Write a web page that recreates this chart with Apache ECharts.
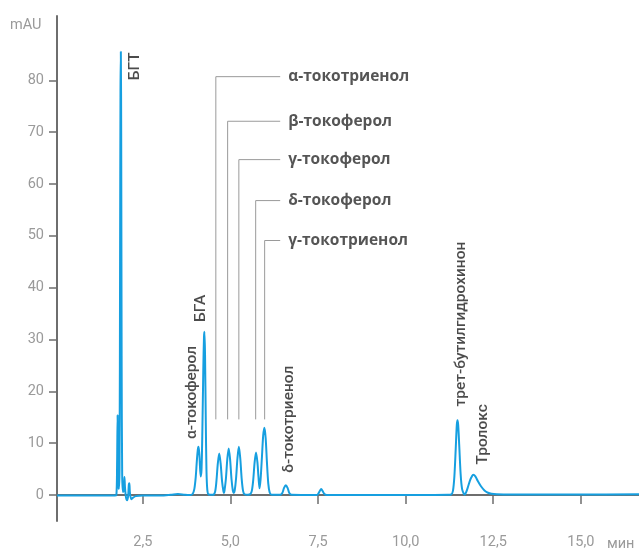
<!DOCTYPE html>
<html>
<head>
<meta charset="utf-8">
<script src="https://cdn.jsdelivr.net/npm/echarts@6/dist/echarts.min.js"></script>
<style>
html,body{margin:0;padding:0;background:#fff;}
#c{width:639px;height:552px;}
</style>
</head>
<body>
<div id="c"></div>
<script>
// Chromatogram trace (retention time, min ; absorbance, mAU)
const retentionTime = [
  0.05, 0.5, 1.0, 1.5, 1.70,
  1.745, 1.765, 1.78, 1.79, 1.80, 1.815,
  1.835, 1.85, 1.862, 1.872, 1.882, 1.895, 1.91, 1.93,
  1.96, 1.975, 1.99, 2.02, 2.05, 2.08, 2.10, 2.115, 2.13, 2.17, 2.22, 2.3, 2.5,
  3.0, 3.3, 3.5, 3.7, 3.85,
  3.92, 3.97, 4.01, 4.04, 4.07, 4.09, 4.115, 4.15, 4.175, 4.2, 4.225, 4.245, 4.258, 4.275, 4.295, 4.315, 4.34, 4.38,
  4.50, 4.56, 4.60, 4.64, 4.68, 4.72, 4.76, 4.80, 4.815,
  4.83, 4.87, 4.91, 4.95, 4.99, 5.03, 5.07, 5.095,
  5.12, 5.16, 5.20, 5.24, 5.28, 5.32, 5.36, 5.40, 5.5,
  5.57, 5.61, 5.65, 5.69, 5.73, 5.77, 5.80, 5.83,
  5.86, 5.90, 5.935, 5.97, 6.005, 6.04, 6.08, 6.12, 6.18,
  6.42, 6.48, 6.53, 6.58, 6.63, 6.68, 6.75,
  7.45, 7.50, 7.55, 7.59, 7.63, 7.68, 7.75,
  8.5, 9.5, 10.5, 11.2,
  11.30, 11.35, 11.39, 11.43, 11.46, 11.48, 11.50, 11.53, 11.57, 11.61, 11.66, 11.69,
  11.73, 11.78, 11.84, 11.89, 11.93, 11.99, 12.06, 12.15, 12.25, 12.35, 12.45, 12.6,
  13.0, 14.0, 15.0, 16.66
];
const absorbance = [
  -0.1, -0.1, -0.1, -0.1, -0.1,
  0.0, 6.0, 15.4, 8.0, 2.0, 1.2,
  5.0, 45.0, 78.0, 85.5, 70.0, 25.0, 4.0, 0.6,
  1.0, 3.5, 1.5, -0.5, -1.0, -0.2, 2.0, 2.3, 0.5, -0.8, -0.5, -0.2, -0.1,
  -0.1, 0.05, 0.2, 0.05, 0.0,
  0.2, 1.2, 3.5, 6.5, 8.8, 9.3, 7.6, 3.6, 5.0, 13.0, 24.0, 30.5, 31.5, 27.0, 15.0, 5.0, 1.0, 0.1,
  0.05, 0.6, 2.7, 6.1, 8.0, 6.1, 2.7, 0.7, 0.4,
  0.8, 3.1, 6.9, 9.0, 6.9, 3.1, 0.8, 0.4,
  0.8, 3.2, 7.1, 9.3, 7.1, 3.2, 0.8, 0.15, 0.05,
  0.2, 0.8, 2.9, 6.3, 8.2, 6.3, 3.5, 1.3,
  3.0, 7.5, 11.5, 13.0, 11.0, 6.5, 2.2, 0.5, 0.05,
  0.05, 0.4, 1.4, 1.9, 1.4, 0.4, 0.05,
  0.0, 0.2, 0.8, 1.15, 0.8, 0.2, 0.0,
  0.0, 0.0, 0.0, 0.05,
  0.1, 0.8, 3.5, 9.0, 13.5, 14.45, 13.5, 9.5, 4.0, 1.2, 0.25, 0.1,
  0.6, 1.6, 2.9, 3.6, 3.9, 3.6, 2.7, 1.7, 0.9, 0.45, 0.25, 0.15,
  0.1, 0.1, 0.1, 0.15
];

// Axis ticks
const xTicks = [2.5, 5.0, 7.5, 10.0, 12.5, 15.0];
const yTicks = [0, 10, 20, 30, 40, 50, 60, 70, 80];

// Rotated peak labels: name, time of label centre, level of label bottom
const peakLabels = ['БГТ', 'α-токоферол', 'БГА', 'δ-токотриенол', 'трет-бутилгидрохинон', 'Тролокс'];
const peakLabelTime = [2.28, 3.915, 4.155, 6.675, 11.57, 12.22];
const peakLabelLevel = [80.0, 10.8, 33.4, 4.3, 17.1, 5.9];

// Leader-line labels
const leaderLabels = ['α-токотриенол', 'β-токоферол', 'γ-токоферол', 'δ-токоферол', 'γ-токотриенол'];
const leaderPeakTime = [4.583, 4.92, 5.24, 5.72, 5.976];
const leaderLevel = [80.7, 72.1, 64.7, 56.8, 49.1];
const leaderBottom = 14.6;
const leaderEndTime = 6.42;
const leaderTextTime = 6.65;

const chart = echarts.init(document.getElementById('c'), null, {renderer: 'canvas'});

const trace = retentionTime.map((t, i) => [t, absorbance[i]]);

const fmt = v => v.toFixed(1).replace('.', ',');

const series = [
  {
    type: 'line',
    data: trace,
    symbol: 'none',
    smooth: 0.3,
    lineStyle: {color: '#169fe0', width: 2},
    silent: true,
    z: 3
  }
];

leaderLabels.forEach((name, i) => {
  series.push({
    type: 'line',
    data: [[leaderPeakTime[i], leaderBottom], [leaderPeakTime[i], leaderLevel[i]], [leaderEndTime, leaderLevel[i]]],
    symbol: 'none',
    lineStyle: {color: '#9a9a9a', width: 1},
    silent: true,
    z: 2
  });
});

series.push({
  type: 'scatter',
  symbolSize: 0,
  silent: true,
  data: peakLabels.map((n, i) => ({name: n, value: [peakLabelTime[i], peakLabelLevel[i]]})),
  label: {
    show: true,
    position: [0, 0],
    rotate: 90,
    align: 'left',
    verticalAlign: 'middle',
    formatter: p => p.name,
    fontFamily: 'Roboto',
    fontWeight: 500,
    fontSize: 15.5,
    color: '#1e1e1e'
  },
  z: 5
});

series.push({
  type: 'scatter',
  symbolSize: 0,
  silent: true,
  data: leaderLabels.map((n, i) => ({name: n, value: [leaderTextTime, leaderLevel[i]]})),
  label: {
    show: true,
    position: [0, 0],
    align: 'left',
    verticalAlign: 'middle',
    formatter: p => p.name,
    fontFamily: 'Open Sans',
    fontWeight: 700,
    fontSize: 15.5,
    color: '#2a2a2a'
  },
  z: 5
});

chart.setOption({
  animation: false,
  backgroundColor: '#fff',
  grid: {left: 57, right: 0, top: 16, bottom: 31, containLabel: false},
  xAxis: {
    type: 'value',
    min: 0.05,
    max: 16.66,
    axisLine: {show: true, lineStyle: {color: '#6e6e6e', width: 2}},
    axisTick: {show: true, customValues: xTicks, length: 9, lineStyle: {color: '#6e6e6e', width: 1.5}},
    axisLabel: {show: true, customValues: xTicks, formatter: fmt, color: '#9a9a9a', fontFamily: 'Roboto', fontSize: 14.5, margin: 14},
    splitLine: {show: false}
  },
  yAxis: {
    type: 'value',
    min: -5,
    max: 92.4,
    axisLine: {show: true, lineStyle: {color: '#6e6e6e', width: 2}},
    axisTick: {show: true, customValues: yTicks, length: 8, lineStyle: {color: '#6e6e6e', width: 1.5}},
    axisLabel: {show: true, customValues: yTicks, color: '#9a9a9a', fontFamily: 'Roboto', fontSize: 14.5, margin: 13},
    splitLine: {show: false}
  },
  graphic: [
    {type: 'text', left: 10, top: 18, style: {text: 'mAU', fill: '#9a9a9a', font: '14.5px Roboto'}},
    {type: 'text', left: 607, top: 537, style: {text: 'мин', fill: '#9a9a9a', font: '14.5px Roboto'}}
  ],
  series: series
});
</script>
</body>
</html>
